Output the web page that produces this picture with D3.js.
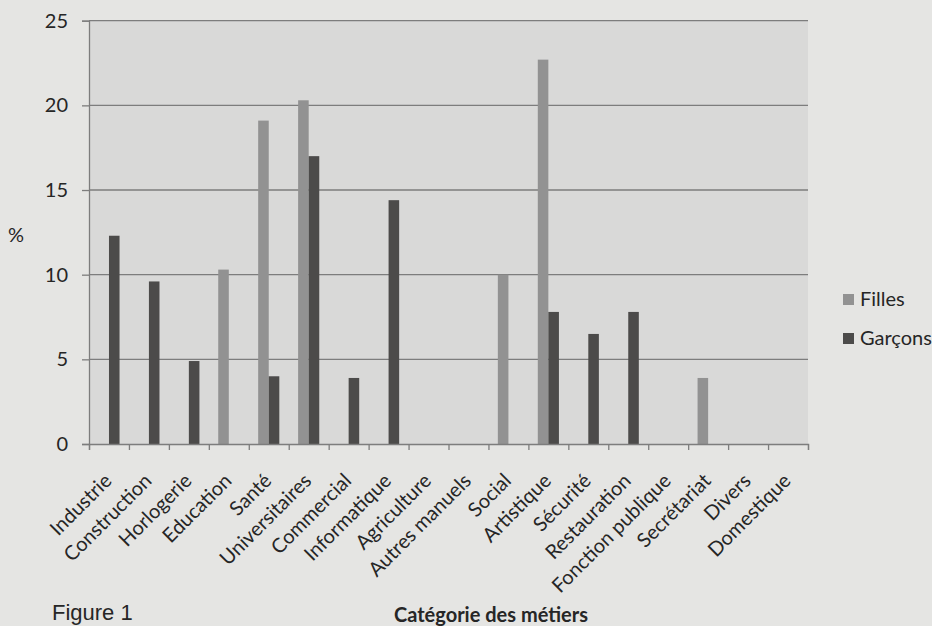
<!DOCTYPE html>
<html>
<head>
<meta charset="utf-8">
<script src="https://cdn.jsdelivr.net/npm/d3@7"></script>
<style>
  body { margin: 0; background: #e5e5e3; }
  text { font-family: Lato, "Open Sans", sans-serif; fill: #262626; }
</style>
</head>
<body>
<div id="chart"></div>
<script>
// data
const categories = ['Industrie', 'Construction', 'Horlogerie', 'Education', 'Santé', 'Universitaires',
  'Commercial', 'Informatique', 'Agriculture', 'Autres manuels', 'Social', 'Artistique', 'Sécurité',
  'Restauration', 'Fonction publique', 'Secrétariat', 'Divers', 'Domestique'];
const seriesNames = ['Filles', 'Garçons'];
const filles  = [0, 0, 0, 10.3, 19.1, 20.3, 0, 0, 0, 0, 10.0, 22.7, 0, 0, 0, 3.9, 0, 0];
const garcons = [12.3, 9.6, 4.9, 0, 4.0, 17.0, 3.9, 14.4, 0, 0, 0, 7.8, 6.5, 7.8, 0, 0, 0, 0];
const yTicks = [0, 5, 10, 15, 20, 25];

// constant values
const w = 932, h = 626;
const plotL = 89, plotR = 808, plotT = 20.7, plotB = 444;
const colors = { 'Filles': '#929292', 'Garçons': '#4c4b4a' };

const svg = d3.select('#chart')
  .append('svg')
  .attr('width', w)
  .attr('height', h);

svg.append('rect')
  .attr('x', plotL).attr('y', plotT)
  .attr('width', plotR - plotL).attr('height', plotB - plotT)
  .attr('fill', '#d9d9d8');

// scales
const xScale = d3.scaleBand().domain(categories).range([plotL, plotR]);
const xSub = d3.scaleBand().domain(seriesNames).range([0, xScale.bandwidth()]).paddingOuter(0.89);
const yScale = d3.scaleLinear().domain([0, 25]).range([plotB, plotT]);

// gridlines
svg.append('g')
  .selectAll('line')
  .data(yTicks.slice(1))
  .enter()
  .append('line')
  .attr('x1', plotL).attr('x2', plotR)
  .attr('y1', d => yScale(d)).attr('y2', d => yScale(d))
  .attr('stroke', '#7d7d7d')
  .attr('stroke-width', 1.3);

// bars
const rows = categories.map((c, i) => ({ cat: c, values: [filles[i], garcons[i]] }));
const groups = svg.append('g')
  .selectAll('g')
  .data(rows)
  .enter()
  .append('g')
  .attr('transform', d => 'translate(' + xScale(d.cat) + ',0)');

groups.selectAll('rect')
  .data(d => d.values.map((v, k) => ({ key: seriesNames[k], v: v })))
  .enter()
  .append('rect')
  .attr('x', d => xSub(d.key))
  .attr('width', xSub.bandwidth())
  .attr('y', d => yScale(d.v))
  .attr('height', d => plotB - yScale(d.v))
  .attr('fill', d => colors[d.key]);

// y axis
const y_axis = d3.axisLeft(yScale).tickValues(yTicks).tickSize(7).tickPadding(14);
const yg = svg.append('g')
  .attr('transform', 'translate(' + plotL + ',0)')
  .call(y_axis);
yg.select('.domain').attr('stroke', '#7d7d7d').attr('stroke-width', 1.3);
yg.selectAll('.tick line').attr('stroke', '#7d7d7d').attr('stroke-width', 1.3);
yg.selectAll('.tick text').style('font-size', '20px').style('font-family', 'Lato').attr('fill', '#262626');

// x axis: ticks at band edges, labels rotated at band centres
const edgeScale = d3.scaleLinear().domain([0, categories.length]).range([plotL, plotR]);
const xe = svg.append('g')
  .attr('transform', 'translate(0,' + plotB + ')')
  .call(d3.axisBottom(edgeScale).tickValues(d3.range(categories.length + 1)).tickSize(6).tickFormat(''));
xe.select('.domain').attr('stroke', '#7d7d7d').attr('stroke-width', 1.3);
xe.selectAll('.tick line').attr('stroke', '#7d7d7d').attr('stroke-width', 1.3);

const xl = svg.append('g')
  .attr('transform', 'translate(0,' + plotB + ')')
  .call(d3.axisBottom(xScale).tickSize(0));
xl.select('.domain').remove();
xl.selectAll('.tick text')
  .attr('x', 0).attr('y', 0).attr('dy', 0)
  .attr('text-anchor', 'end')
  .attr('transform', 'translate(4,38) rotate(-45)')
  .style('font-size', '20px').style('font-family', 'Lato').attr('fill', '#262626');

// axis titles
svg.append('text').attr('x', 16).attr('y', 242).attr('text-anchor', 'middle')
  .style('font-size', '20px').text('%');
svg.append('text').attr('x', 491).attr('y', 622).attr('text-anchor', 'middle')
  .style('font-size', '20px').style('font-weight', 'bold').text('Catégorie des métiers');

// legend
const legend = svg.append('g')
  .selectAll('g')
  .data(seriesNames)
  .enter()
  .append('g')
  .attr('transform', (d, i) => 'translate(843,' + (294 + i * 39) + ')');
legend.append('rect').attr('width', 11).attr('height', 11).attr('fill', d => colors[d]);
legend.append('text').attr('x', 17).attr('y', 12).style('font-size', '20px').text(d => d);

// caption of the page
svg.append('text').attr('x', 52).attr('y', 620)
  .style('font-family', '"Liberation Sans", Arial, sans-serif').style('font-size', '22px')
  .attr('fill', '#333').text('Figure 1');
</script>
</body>
</html>
